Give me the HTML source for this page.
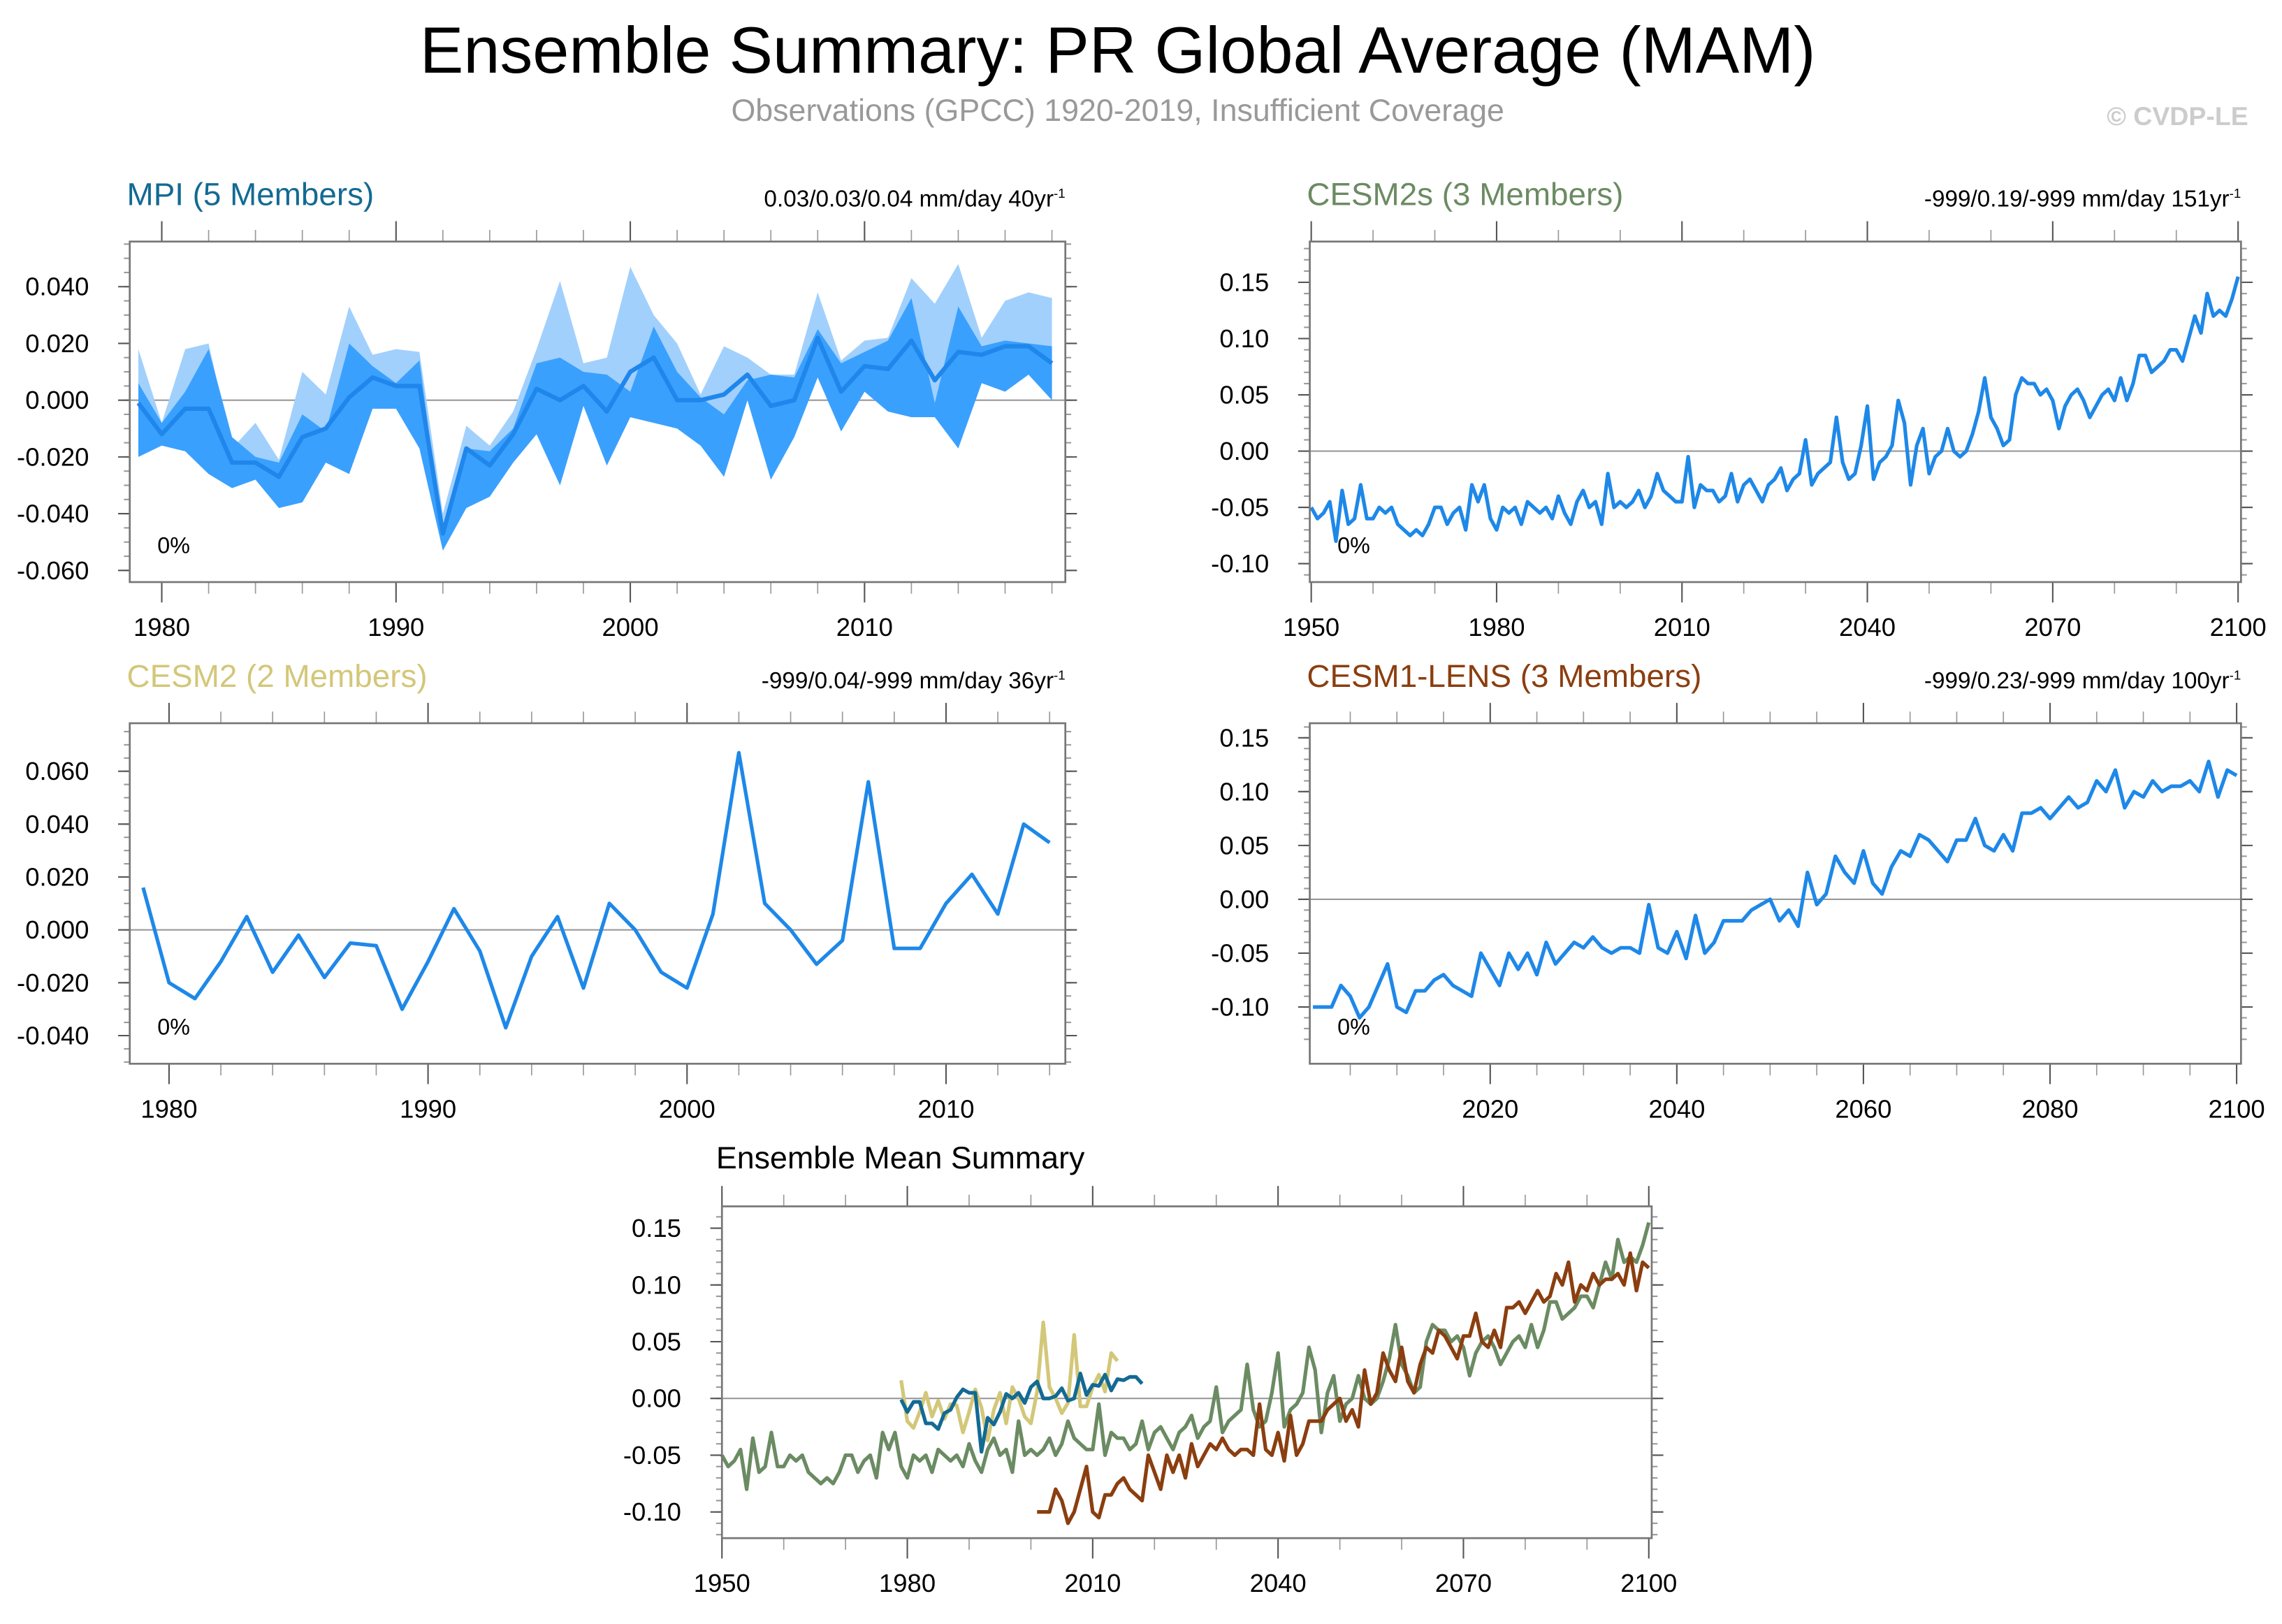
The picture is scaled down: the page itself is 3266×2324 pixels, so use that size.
<!DOCTYPE html>
<html><head><meta charset="utf-8"><style>
html,body{margin:0;padding:0;background:#fff}
svg{display:block}
text{font-family:"Liberation Sans",sans-serif}
</style></head><body>
<svg id="s" xmlns="http://www.w3.org/2000/svg" width="3266" height="2324" viewBox="0 0 1568 1116">
<rect width="1568" height="1116" fill="#fff"/>
<text x="768" y="50" font-size="45" text-anchor="middle">Ensemble Summary: PR Global Average (MAM)</text>
<text x="768" y="83" font-size="21.5" fill="#999" text-anchor="middle">Observations (GPCC) 1920-2019, Insufficient Coverage</text>
<text x="1545" y="86" font-size="18" fill="#ccc" font-weight="bold" text-anchor="end">© CVDP-LE</text>
</svg>
<script>
// ---- data ----
const mpiYears0 = 1979;
const mpiMean = [-0.001,-0.012,-0.003,-0.003,-0.022,-0.022,-0.027,-0.013,-0.010,0.001,0.008,0.005,0.005,-0.047,-0.017,-0.023,-0.012,0.004,0.000,0.005,-0.004,0.010,0.015,0.000,0.000,0.002,0.009,-0.002,0.000,0.022,0.003,0.012,0.011,0.021,0.007,0.017,0.016,0.019,0.019,0.013];
const mpiMax = [0.018,-0.008,0.018,0.020,-0.017,-0.008,-0.021,0.010,0.002,0.033,0.016,0.018,0.017,-0.040,-0.009,-0.016,-0.004,0.018,0.042,0.013,0.015,0.047,0.030,0.020,0.002,0.019,0.015,0.009,0.009,0.038,0.014,0.021,0.022,0.043,0.034,0.048,0.022,0.035,0.038,0.036];
const mpiInnerTop = [0.006,-0.008,0.003,0.018,-0.013,-0.020,-0.022,-0.005,-0.011,0.020,0.012,0.006,0.014,-0.048,-0.017,-0.018,-0.010,0.013,0.015,0.010,0.009,0.003,0.026,0.010,0.001,-0.005,0.007,0.009,0.008,0.025,0.013,0.017,0.021,0.036,-0.001,0.033,0.019,0.021,0.020,0.019];
const mpiMin = [-0.020,-0.016,-0.018,-0.026,-0.031,-0.028,-0.038,-0.036,-0.022,-0.026,-0.003,-0.003,-0.017,-0.053,-0.038,-0.034,-0.022,-0.012,-0.030,-0.002,-0.023,-0.006,-0.008,-0.010,-0.016,-0.027,0.000,-0.028,-0.013,0.008,-0.011,0.003,-0.004,-0.006,-0.006,-0.017,0.006,0.003,0.009,0.000];
const cesm2sYears0 = 1950;
const cesm2s = [-0.05,-0.06,-0.055,-0.045,-0.08,-0.035,-0.065,-0.06,-0.03,-0.06,
-0.06,-0.05,-0.055,-0.05,-0.065,-0.07,-0.075,-0.07,-0.075,-0.065,
-0.05,-0.05,-0.065,-0.055,-0.05,-0.07,-0.03,-0.045,-0.03,-0.06,
-0.07,-0.05,-0.055,-0.05,-0.065,-0.045,-0.05,-0.055,-0.05,-0.06,
-0.04,-0.055,-0.065,-0.045,-0.035,-0.05,-0.045,-0.065,-0.02,-0.05,
-0.045,-0.05,-0.045,-0.035,-0.05,-0.04,-0.02,-0.035,-0.04,-0.045,
-0.045,-0.005,-0.05,-0.03,-0.035,-0.035,-0.045,-0.04,-0.02,-0.045,
-0.03,-0.025,-0.035,-0.045,-0.03,-0.025,-0.015,-0.035,-0.025,-0.02,
0.01,-0.03,-0.02,-0.015,-0.01,0.03,-0.01,-0.025,-0.02,0.005,
0.04,-0.025,-0.01,-0.005,0.005,0.045,0.025,-0.03,0.005,0.02,
-0.02,-0.005,0.0,0.02,0.0,-0.005,0.0,0.015,0.035,0.065,
0.03,0.02,0.005,0.01,0.05,0.065,0.06,0.06,0.05,0.055,
0.045,0.02,0.04,0.05,0.055,0.045,0.03,0.04,0.05,0.055,
0.045,0.065,0.045,0.06,0.085,0.085,0.07,0.075,0.08,0.09,
0.09,0.08,0.10,0.12,0.105,0.14,0.12,0.125,0.12,0.135,0.155];
const cesm2Years0 = 1979;
const cesm2 = [0.016,-0.020,-0.026,-0.012,0.005,-0.016,-0.002,-0.018,-0.005,-0.006,-0.030,-0.012,0.008,-0.008,-0.037,-0.010,0.005,-0.022,0.010,0.000,-0.016,-0.022,0.006,0.067,0.010,0.000,-0.013,-0.004,0.056,-0.007,-0.007,0.010,0.021,0.006,0.040,0.033];
const lensYears0 = 2001;
const lens = [-0.10,-0.10,-0.10,-0.08,-0.09,-0.11,-0.10,-0.08,-0.06,-0.10,
-0.105,-0.085,-0.085,-0.075,-0.07,-0.08,-0.085,-0.09,-0.05,-0.065,
-0.08,-0.05,-0.065,-0.05,-0.07,-0.04,-0.06,-0.05,-0.04,-0.045,
-0.035,-0.045,-0.05,-0.045,-0.045,-0.05,-0.005,-0.045,-0.05,-0.03,
-0.055,-0.015,-0.05,-0.04,-0.02,-0.02,-0.02,-0.01,-0.005,0.0,
-0.02,-0.01,-0.025,0.025,-0.005,0.005,0.04,0.025,0.015,0.045,
0.015,0.005,0.03,0.045,0.04,0.06,0.055,0.045,0.035,0.055,
0.055,0.075,0.05,0.045,0.06,0.045,0.08,0.08,0.085,0.075,
0.085,0.095,0.085,0.09,0.11,0.10,0.12,0.085,0.10,0.095,
0.11,0.10,0.105,0.105,0.11,0.10,0.128,0.095,0.12,0.115];
const mpiYTicks = [0.04,0.02,0.0,-0.02,-0.04,-0.06];
const cesm2YTicks = [0.06,0.04,0.02,0.0,-0.02,-0.04];
const bigYTicks = [0.15,0.10,0.05,0.0,-0.05,-0.10];

const svg = document.getElementById('s');
const NS = 'http://www.w3.org/2000/svg';
function mk(tag, attrs, parent){const e=document.createElementNS(NS,tag);for(const k in attrs)e.setAttribute(k,attrs[k]);(parent||svg).appendChild(e);return e;}

function panel(o){
  const g = mk('g',{});
  
  
  const X = y => o.x0 + (y - o.xa) / (o.xb - o.xa) * (o.px1 - o.x0);
  const Y = v => o.y0 + (v - o.va) / (o.vb - o.va) * (o.py1 - o.y0);
  o.X = X; o.Y = Y;
  const tg = mk('g',{},g);
  
  
  for(let v=o.yMinorStart; v<=o.yMinorEnd+1e-9; v+=o.yMinor){
    const yy=Y(v); if(yy<o.top-0.5||yy>o.bot+0.5) continue;
    mk('line',{x1:o.L-4,x2:o.L,y1:yy,y2:yy,stroke:'#999','stroke-width':1},tg);
    mk('line',{x1:o.R,x2:o.R+4,y1:yy,y2:yy,stroke:'#999','stroke-width':1},tg);
  }
  for(let v=o.xMinorStart; v<=o.xMinorEnd+1e-9; v+=o.xMinor){
    const xx=X(v); if(xx<o.L-0.5||xx>o.R+0.5) continue;
    mk('line',{x1:xx,x2:xx,y1:o.top-8,y2:o.top,stroke:'#999','stroke-width':0.8},tg);
    mk('line',{x1:xx,x2:xx,y1:o.bot,y2:o.bot+8,stroke:'#999','stroke-width':0.8},tg);
  }
  o.yTicks.forEach(v=>{
    const yy=Y(v);
    mk('line',{x1:o.L-8,x2:o.L,y1:yy,y2:yy,stroke:'#555','stroke-width':1},tg);
    mk('line',{x1:o.R,x2:o.R+8,y1:yy,y2:yy,stroke:'#555','stroke-width':1},tg);
    const t=mk('text',{x:o.L-28,y:yy+6,'font-size':17.5,'text-anchor':'end'},tg);
    t.textContent=v.toFixed(o.dec);
    
    
  });
  o.xTicks.forEach(v=>{
    const xx=X(v);
    mk('line',{x1:xx,x2:xx,y1:o.top-14,y2:o.top,stroke:'#555','stroke-width':1},tg);
    mk('line',{x1:xx,x2:xx,y1:o.bot,y2:o.bot+14,stroke:'#555','stroke-width':1},tg);
    const t=mk('text',{x:xx,y:o.bot+37,'font-size':17.5,'text-anchor':'middle'},tg);
    t.textContent=v;
    
    
  });
  const z=mk('line',{x1:o.L,x2:o.R,y1:Y(0),y2:Y(0),stroke:'#999','stroke-width':1},g);
  
  
  o.g=g;
  return o;
}
function finishBox(o){
  const b=mk('rect',{x:o.L,y:o.top,width:o.R-o.L,height:o.bot-o.top,fill:'none',stroke:'#777','stroke-width':1.3},o.g);
  
  
}
function seriesLine(o, y0, arr, color, w, name){
  const p=arr.map((v,i)=>o.X(y0+i).toFixed(2)+','+o.Y(v).toFixed(2)).join(' ');
  const l=mk('polyline',{points:p,fill:'none',stroke:color,'stroke-width':w,'stroke-linejoin':'round'},o.g);
  
  
}
function band(o, y0, top, bot, color, name){
  const pts=top.map((v,i)=>o.X(y0+i)+','+o.Y(v));
  const pb=bot.map((v,i)=>o.X(y0+i)+','+o.Y(v)).reverse();
  const p=mk('polygon',{points:pts.concat(pb).join(' '),fill:color},o.g);
  
  
}
function titles(o, title, color, right){
  const t=mk('text',{x:o.L-2,y:o.top-25,'font-size':22,fill:color},o.g);
  t.textContent=title;
  
  
  if(right){
    const r=mk('text',{x:o.R-8,y:o.top-24,'font-size':16,'text-anchor':'end'},o.g);
    r.textContent=right;
    
    
    const s=mk('text',{x:o.R-8,y:o.top-30,'font-size':9},o.g);
    s.textContent='-1';
    
    
  }
}
function pct(o){
  const t=mk('text',{x:o.L+19,y:o.bot-20,'font-size':15.5},o.g);
  t.textContent='0%';
  
  
}

const p1=panel({name:'mpi-panel',L:89,R:732,top:166,bot:400,x0:111,px1:594,xa:1980,xb:2010,y0:275,py1:197,va:0,vb:0.04,
  yTicks:mpiYTicks,dec:3,xTicks:[1980,1990,2000,2010],xMinor:2,xMinorStart:1978,xMinorEnd:2020,yMinor:0.005,yMinorStart:-0.07,yMinorEnd:0.06});
band(p1,mpiYears0,mpiMax,mpiMin,'#a1d0fd','mpi-spread-band');
band(p1,mpiYears0,mpiInnerTop,mpiMin,'#3aa0fe','mpi-inner-band');
seriesLine(p1,mpiYears0,mpiMean,'#1f86ec',3,'mpi-mean-line');
finishBox(p1); titles(p1,'MPI (5 Members)','#136a93','0.03/0.03/0.04 mm/day 40yr'); pct(p1);

const p2=panel({name:'cesm2s-panel',L:900,R:1540,top:166,bot:400,x0:901,px1:1538,xa:1950,xb:2100,y0:310,py1:194,va:0,vb:0.15,
  yTicks:bigYTicks,dec:2,xTicks:[1950,1980,2010,2040,2070,2100],xMinor:10,xMinorStart:1950,xMinorEnd:2100,yMinor:0.01,yMinorStart:-0.13,yMinorEnd:0.2});
seriesLine(p2,cesm2sYears0,cesm2s,'#1e88e8',2.5,'cesm2s-line');
finishBox(p2); titles(p2,'CESM2s (3 Members)','#6b8b63','-999/0.19/-999 mm/day 151yr'); pct(p2);

const p3=panel({name:'cesm2-panel',L:89,R:732,top:497,bot:731,x0:116,px1:650,xa:1980,xb:2010,y0:639,py1:530,va:0,vb:0.06,
  yTicks:cesm2YTicks,dec:3,xTicks:[1980,1990,2000,2010],xMinor:2,xMinorStart:1978,xMinorEnd:2016,yMinor:0.005,yMinorStart:-0.05,yMinorEnd:0.08});
seriesLine(p3,cesm2Years0,cesm2,'#1e88e8',2.5,'cesm2-line');
finishBox(p3); titles(p3,'CESM2 (2 Members)','#d3c779','-999/0.04/-999 mm/day 36yr'); pct(p3);

const p4=panel({name:'cesm1-lens-panel',L:900,R:1540,top:497,bot:731,x0:1024,px1:1537,xa:2020,xb:2100,y0:618,py1:507,va:0,vb:0.15,
  yTicks:bigYTicks,dec:2,xTicks:[2020,2040,2060,2080,2100],xMinor:5,xMinorStart:2000,xMinorEnd:2100,yMinor:0.01,yMinorStart:-0.13,yMinorEnd:0.17});
seriesLine(p4,lensYears0,lens,'#1e88e8',2.5,'cesm1-lens-line');
finishBox(p4); titles(p4,'CESM1-LENS (3 Members)','#8b3e0f','-999/0.23/-999 mm/day 100yr'); pct(p4);

const p5=panel({name:'ensemble-mean-summary-panel',L:496,R:1135,top:829,bot:1057,x0:496,px1:1133,xa:1950,xb:2100,y0:961,py1:844,va:0,vb:0.15,
  yTicks:bigYTicks,dec:2,xTicks:[1950,1980,2010,2040,2070,2100],xMinor:10,xMinorStart:1950,xMinorEnd:2100,yMinor:0.01,yMinorStart:-0.12,yMinorEnd:0.17});
seriesLine(p5,cesm2sYears0,cesm2s,'#6b8b63',2.5,'summary-cesm2s-line');
seriesLine(p5,lensYears0,lens,'#8b3e0f',2.5,'summary-cesm1-lens-line');
seriesLine(p5,cesm2Years0,cesm2,'#d3c779',2.5,'summary-cesm2-line');
seriesLine(p5,mpiYears0,mpiMean,'#136a93',2.5,'summary-mpi-line');
finishBox(p5);
const st=mk('text',{x:492,y:803,'font-size':21.5},p5.g);
st.textContent='Ensemble Mean Summary';


</script>
</body></html>
